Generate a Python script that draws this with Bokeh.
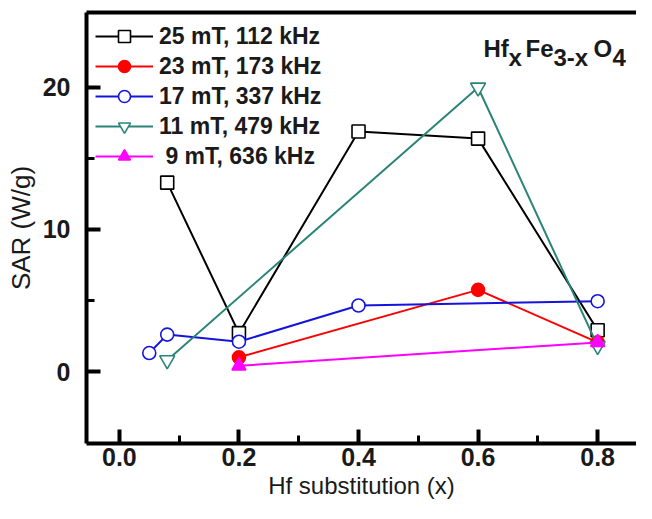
from bokeh.plotting import figure
from bokeh.models import LinearAxis, FixedTicker, Label, PrintfTickFormatter
from bokeh.embed import file_html
from bokeh.resources import INLINE

# ---- data ----
labels = ["25 mT, 112 kHz", "23 mT, 173 kHz", "17 mT, 337 kHz", "11 mT, 479 kHz", " 9 mT, 636 kHz"]

x_25mT = [0.08, 0.2, 0.4, 0.6, 0.8]
y_25mT = [13.3, 2.7, 16.9, 16.4, 2.9]

x_23mT = [0.2, 0.6, 0.8]
y_23mT = [1.0, 5.75, 2.05]

x_17mT = [0.05, 0.08, 0.2, 0.4, 0.8]
y_17mT = [1.3, 2.6, 2.1, 4.65, 4.95]

x_11mT = [0.08, 0.6, 0.8]
y_11mT = [0.8, 20.0, 1.8]

x_9mT = [0.2, 0.8]
y_9mT = [0.4, 2.05]

x_ticks = [0.0, 0.2, 0.4, 0.6, 0.8]
x_minor = [0.1, 0.3, 0.5, 0.7]
y_ticks = [0, 10, 20]
y_minor = [5, 15]

FONT = "Liberation Sans"
TXT = "#1a1a1a"

p = figure(width=636, height=503, x_range=(-0.055, 0.865), y_range=(-5.07, 25.28),
           output_backend="svg", toolbar_location=None,
           min_border_left=86, min_border_right=0, min_border_top=12, min_border_bottom=60)
p.grid.visible = False
p.outline_line_color = None
p.background_fill_color = "white"
p.border_fill_color = "white"

series = [
    (labels[0], x_25mT, y_25mT, "#000000", "square", "white", 13),
    (labels[1], x_23mT, y_23mT, "#ff0000", "circle", "#ff0000", 13),
    (labels[2], x_17mT, y_17mT, "#1414dc", "circle", "white", 13),
    (labels[3], x_11mT, y_11mT, "#2a8478", "inverted_triangle", "white", 15),
    (labels[4], x_9mT, y_9mT, "#ff00ff", "triangle", "#ff00ff", 14),
]
for lab, xs, ys, col, mk, fill, sz in series:
    p.line(xs, ys, line_color=col, line_width=2, legend_label=lab)
    p.scatter(xs, ys, marker=mk, size=sz, line_color=col, fill_color=fill,
              line_width=1.6, legend_label=lab)

# axes
for ax in (p.xaxis[0], p.yaxis[0]):
    ax.axis_line_width = 4
    ax.axis_line_color = "black"
    ax.major_tick_in = 14
    ax.major_tick_out = 0
    ax.minor_tick_in = 8
    ax.minor_tick_out = 0
    ax.major_tick_line_width = 4
    ax.minor_tick_line_width = 3
    ax.major_tick_line_color = "black"
    ax.minor_tick_line_color = "black"
    ax.major_label_text_font = FONT
    ax.major_label_text_font_style = "bold"
    ax.major_label_text_font_size = "25px"
    ax.major_label_text_color = TXT
    ax.axis_label_text_font = FONT
    ax.axis_label_text_font_style = "normal"
    ax.axis_label_text_color = TXT

xa = p.xaxis[0]
xa.ticker = FixedTicker(ticks=x_ticks, minor_ticks=x_minor)
xa.formatter = PrintfTickFormatter(format="%.1f")
xa.major_label_standoff = 4
xa.axis_label = "Hf substitution (x)"
xa.axis_label_text_font_size = "24px"
xa.axis_label_standoff = 3

ya = p.yaxis[0]
ya.ticker = FixedTicker(ticks=y_ticks, minor_ticks=y_minor)
ya.formatter = PrintfTickFormatter(format="%d")
ya.major_label_standoff = 16
ya.axis_label = "SAR (W/g)"
ya.axis_label_text_font_size = "26px"
ya.axis_label_standoff = 4

top = LinearAxis(ticker=FixedTicker(ticks=[]), axis_line_width=4, axis_line_color="black",
                 major_tick_out=0, major_tick_in=0, minor_tick_in=0, minor_tick_out=0,
                 major_label_standoff=0, axis_label_standoff=0)
p.add_layout(top, "above")

# legend
lg = p.legend[0]
lg.location = "top_left"
lg.margin = 1
lg.padding = 8
lg.spacing = 0
lg.glyph_width = 58
lg.glyph_height = 30
lg.label_height = 30
lg.label_standoff = 6
lg.label_text_font = FONT
lg.label_text_font_style = "bold"
lg.label_text_font_size = "23px"
lg.label_text_color = TXT
lg.border_line_alpha = 0
lg.background_fill_alpha = 0

# formula annotation  Hf_x Fe_{3-x} O_4 (subscripts lowered)
def lab(text, x, y):
    p.add_layout(Label(x=x, y=y, x_units="screen", y_units="screen", text=text,
                       text_font=FONT, text_font_style="bold", text_font_size="24px",
                       text_color=TXT, text_baseline="alphabetic"))

MAIN_Y, SUB_Y = 395, 386
lab("Hf", 397, MAIN_Y)
lab("x", 422, SUB_Y)
lab("Fe", 439, MAIN_Y)
lab("3-x", 467, SUB_Y)
lab("O", 507, MAIN_Y)
lab("4", 526, SUB_Y)

open("out.html", "w").write(file_html(p, INLINE))
